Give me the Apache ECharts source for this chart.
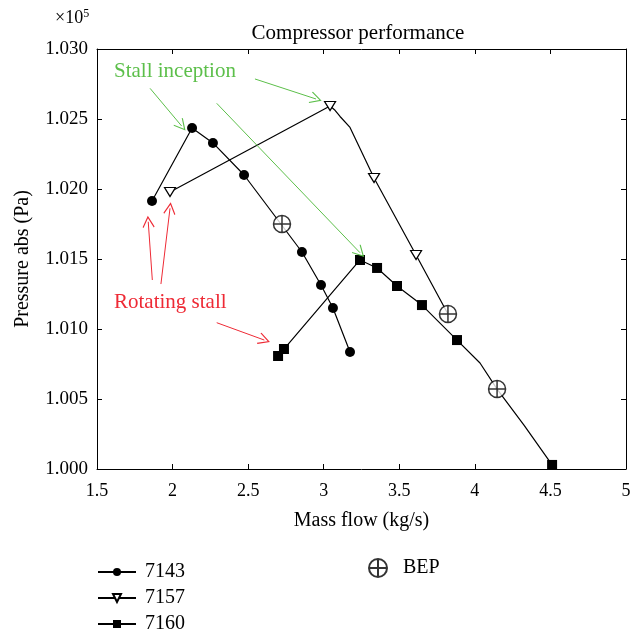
<!DOCTYPE html>
<html>
<head>
<meta charset="utf-8">
<script src="https://cdn.jsdelivr.net/npm/echarts@6/dist/echarts.min.js"></script>
<style>
  html, body { margin: 0; padding: 0; background: #fff; }
  #chart { width: 640px; height: 630px; }
</style>
</head>
<body>
<div id="chart"></div>
<script>
  // data (pressure in units of 1e5 Pa)
  var x7143 = [1.864, 2.129, 2.267, 2.473, 2.856, 2.982, 3.061, 3.174];
  var y7143 = [1.01914, 1.02436, 1.02329, 1.0210, 1.0155, 1.01314, 1.0115, 1.00836];

  // 0 = bend of the curve only, no marker
  var x7157 = [1.983, 3.042, 3.075, 3.108, 3.174, 3.333, 3.611, 3.822];
  var y7157 = [1.01979, 1.02593, 1.02562, 1.02518, 1.02440, 1.02079, 1.01529, 1.01107];
  var m7157 = [1, 1, 0, 0, 0, 1, 1, 0];

  var x7160 = [2.698, 2.737, 3.240, 3.353, 3.485, 3.650, 3.882, 4.034, 4.147, 4.325, 4.511];
  var y7160 = [1.00807, 1.00857, 1.01493, 1.01436, 1.01307, 1.01171, 1.00921, 1.00757, 1.00571, 1.00314, 1.00029];
  var m7160 = [1, 1, 1, 1, 1, 1, 1, 0, 0, 0, 1];

  var xBEP = [2.724, 3.822, 4.147];
  var yBEP = [1.0175, 1.01107, 1.00571];

  // annotation arrows [x0, y0, x1, y1] in data units
  var greenArrows = [
    [1.851, 1.02719, 2.060, 1.0245],
    [2.545, 1.02786, 2.949, 1.02643],
    [2.292, 1.02612, 3.240, 1.01545]
  ];
  var redArrows = [
    [1.866, 1.0135, 1.839, 1.01766],
    [1.923, 1.01321, 1.983, 1.01862],
    [2.292, 1.01045, 2.607, 1.00921]
  ];

  const FONT = '"Liberation Serif", "DejaVu Serif", serif';
  const GREEN = '#5cbf4a';
  const RED = '#ee2a35';

  const pairs = (xs, ys, marks) => xs.map((x, i) => {
    let item = { value: [x, ys[i]] };
    if (marks && !marks[i]) item.symbol = 'none';
    return item;
  });

  const arrowLines = (list, color) => list.map(a => [
    { coord: [a[0], a[1]], lineStyle: { color: color, width: 1 } },
    { coord: [a[2], a[3]] }
  ]);

  // open V arrow head
  const chevron = 'path://M0,14 L7,0 L14,14 L13,15 L7,3 L1,15 Z';
  const triDown = 'path://M0,0 L12,0 L6,10 Z';
  const bepSym = 'path://M0,10 A10,10 0 1,1 20,10 A10,10 0 1,1 0,10 Z M0,10 L20,10 M10,0 L10,20';

  let chartDiv = document.getElementById('chart');
  let myChart = echarts.init(chartDiv, null, { renderer: 'canvas' });

  let axisCommon = {
    axisLine: { lineStyle: { color: '#000', width: 1 } },
    axisTick: { inside: true, length: 5, lineStyle: { color: '#000' } },
    splitLine: { show: false }
  };

  let legendText = { fontFamily: FONT, fontSize: 20, color: '#000', padding: [0, 0, 0, 4] };

  let option = {
    animation: false,
    title: {
      text: 'Compressor performance',
      left: 353, top: 18, textAlign: 'center',
      textStyle: { fontFamily: FONT, fontSize: 21, fontWeight: 'normal', color: '#000' }
    },
    grid: { left: 97, right: 14, top: 49, bottom: 161 },
    xAxis: [
      Object.assign({}, axisCommon, {
        type: 'value', min: 1.5, max: 5, interval: 0.5,
        name: 'Mass flow (kg/s)', nameLocation: 'middle', nameGap: 42,
        nameTextStyle: { fontFamily: FONT, fontSize: 20, color: '#000' },
        axisLabel: { fontFamily: FONT, fontSize: 18, color: '#000', margin: 13 }
      }),
      Object.assign({}, axisCommon, {
        type: 'value', min: 1.5, max: 5, interval: 0.5, position: 'top',
        axisLabel: { show: false }
      })
    ],
    yAxis: [
      Object.assign({}, axisCommon, {
        type: 'value', min: 1.000, max: 1.030, interval: 0.005,
        name: 'Pressure abs (Pa)', nameLocation: 'middle', nameGap: 64,
        nameTextStyle: { fontFamily: FONT, fontSize: 20, color: '#000' },
        axisLabel: {
          fontFamily: FONT, fontSize: 19, color: '#000', margin: 9,
          formatter: v => v.toFixed(3)
        }
      }),
      Object.assign({}, axisCommon, {
        type: 'value', min: 1.000, max: 1.030, interval: 0.005, position: 'right',
        axisLabel: { show: false }
      })
    ],
    legend: [
      {
        data: ['7143'], left: 97, top: 562, padding: 0,
        itemWidth: 38, itemHeight: 10, textStyle: legendText
      },
      {
        data: ['7157'], left: 97, top: 588, padding: 0,
        itemWidth: 38, itemHeight: 10, textStyle: legendText
      },
      {
        data: ['7160'], left: 97, top: 614, padding: 0,
        itemWidth: 38, itemHeight: 10, textStyle: legendText
      },
      {
        data: ['BEP'], left: 368, top: 558, padding: 0,
        itemWidth: 20, itemHeight: 18,
        textStyle: { fontFamily: FONT, fontSize: 20, color: '#000', padding: [0, 0, 0, 10] }
      }
    ],
    graphic: [
      {
        type: 'text', left: 55, top: 8,
        style: {
          text: '×10{s|5}', fontFamily: FONT, fontSize: 18, fill: '#000',
          rich: { s: { fontFamily: FONT, fontSize: 12, verticalAlign: 'top', padding: [0, 0, 9, 0] } }
        }
      },
      {
        type: 'text', left: 114, top: 61,
        style: { text: 'Stall inception', fontFamily: FONT, fontSize: 21, fill: GREEN }
      },
      {
        type: 'text', left: 114, top: 292,
        style: { text: 'Rotating stall', fontFamily: FONT, fontSize: 21, fill: RED }
      }
    ],
    series: [
      {
        name: '7143', type: 'line', data: pairs(x7143, y7143),
        symbol: 'circle', symbolSize: 10,
        lineStyle: { color: '#000', width: 1.2 },
        itemStyle: { color: '#000' }
      },
      {
        name: '7157', type: 'line', data: pairs(x7157, y7157, m7157),
        symbol: triDown, symbolSize: [11, 9],
        lineStyle: { color: '#000', width: 1.2 },
        itemStyle: { color: '#fff', borderColor: '#000', borderWidth: 1.2 }
      },
      {
        name: '7160', type: 'line', data: pairs(x7160, y7160, m7160),
        symbol: 'rect', symbolSize: 10,
        lineStyle: { color: '#000', width: 1.2 },
        itemStyle: { color: '#000' }
      },
      {
        name: 'BEP', type: 'scatter', data: pairs(xBEP, yBEP),
        symbol: bepSym, symbolSize: 17, z: 5,
        itemStyle: { color: '#fff', borderColor: '#000', borderWidth: 1.5 }
      },
      {
        name: 'arrows', type: 'line', data: [],
        markLine: {
          silent: true, animation: false,
          symbol: ['none', chevron], symbolSize: [12, 12],
          label: { show: false },
          lineStyle: { type: 'solid', width: 1 },
          data: arrowLines(greenArrows, GREEN).concat(arrowLines(redArrows, RED))
        }
      }
    ]
  };

  option && myChart.setOption(option);
</script>
</body>
</html>
